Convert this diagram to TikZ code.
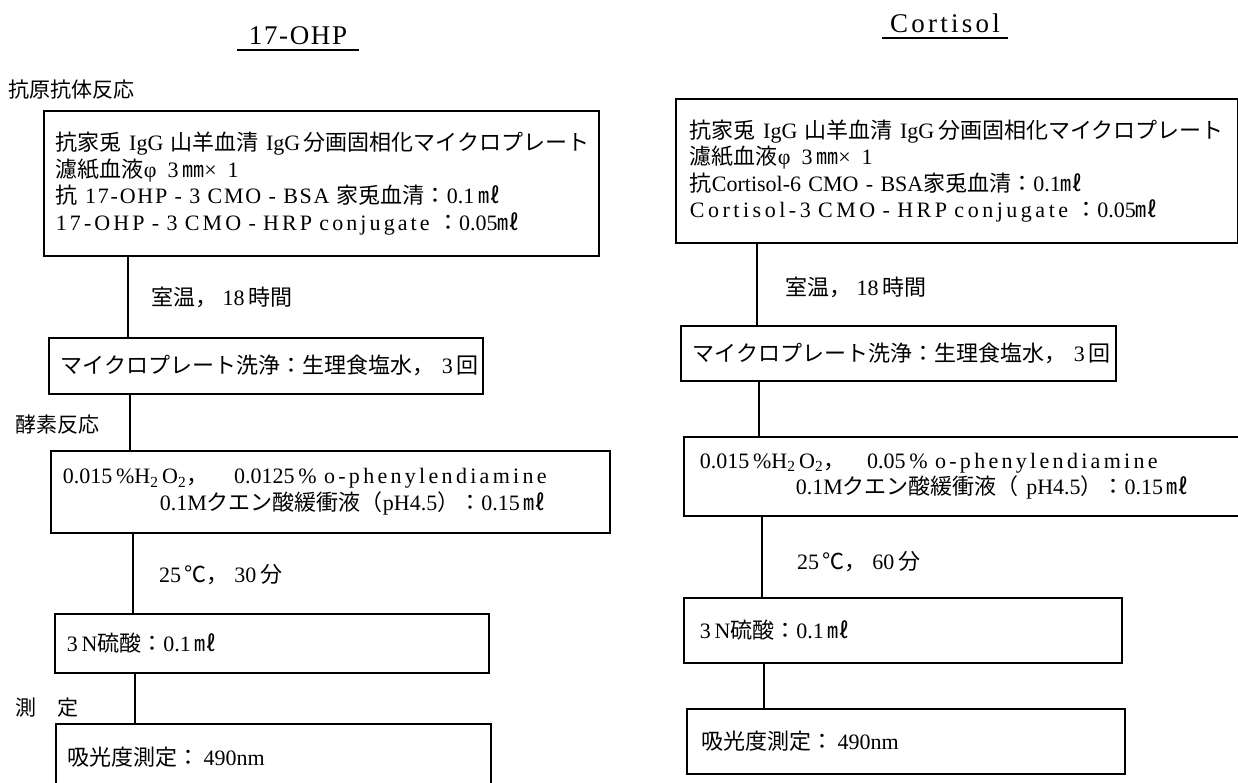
\documentclass[tikz,border=0pt]{standalone}
\usepackage{fontspec}
\setmainfont{Liberation Serif}
\newfontfamily\jp{Noto Sans CJK JP}
\newfontfamily\lsa[LetterSpace=6]{Liberation Serif}
\newfontfamily\lsb[LetterSpace=12]{Liberation Serif}
\newfontfamily\lsA[LetterSpace=8]{Liberation Serif}
\newfontfamily\lsB[LetterSpace=14]{Liberation Serif}
\newfontfamily\lsC[LetterSpace=16]{Liberation Serif}
\newfontfamily\lsD[LetterSpace=15]{Liberation Serif}
\newcommand\J[1]{{\jp #1}}
\newcommand\boxfont{\fontsize{22}{26.5}\selectfont}
\newcommand\labfont{\jp\fontsize{21}{24}\selectfont}
\tikzset{
  bx/.style={draw, line width=1.8pt, anchor=north west, inner xsep=12pt, inner ysep=0pt, align=left, font=\boxfont},
  lab/.style={anchor=west, inner sep=0pt, font=\labfont},
  ttl/.style={anchor=south, inner xsep=12pt, inner ysep=5pt},
  uline/.style={line width=1.6pt},
  conn/.style={line width=2.4pt},
}
\begin{document}
\begin{tikzpicture}[x=1pt,y=-1pt]
\useasboundingbox (0,0) rectangle (1238,783);
\clip (0,0) rectangle (1238,783);
% ---------- left column ----------
\node[ttl, font=\lsa\fontsize{27}{30}\selectfont] (T1) at (298,50) {17-OHP};
\draw[uline] (T1.south west) -- (T1.south east);
\node[lab] (LA) at (8,90) {抗原抗体反応};
\node[bx, text width=531pt, minimum height=145pt] (L1) at (43,110)
 {\mbox{\J{抗家兎} IgG \J{山羊血清} IgG\,\J{分画固相化マイクロプレート}}\\
  \mbox{\J{濾紙血液}φ\, 3\,\J{㎜}×\, 1}\\
  \mbox{\J{抗}{\lsA\ 17-OHP - 3 CMO - BSA }\J{家兎血清：}0.1\,\J{㎖}}\\
  \mbox{{\lsB 17-OHP - 3 CMO - HRP conjugate }\J{：}0.05\J{㎖}}};
\node[lab, font=\boxfont] (LB) at (151,297) {\J{室温，} 18\,\J{時間}};
\node[bx, text width=410pt, minimum height=56pt] (L2) at (48,337)
 {\mbox{\J{マイクロプレート洗浄：生理食塩水，} 3\,\J{回}}};
\node[lab] (LC) at (15,425) {酵素反応};
\node[bx, text width=535pt, minimum height=82pt] (L3) at (50,450)
 {\mbox{0.015\,\%H\textsubscript{2}\,O\textsubscript{2}\J{，}\hspace{26pt}0.0125\,\%\ {\lsD o-phenylendiamine}}\\
  \mbox{\hspace*{97pt}0.1M\J{クエン酸緩衝液（}pH4.5\J{）：}0.15\,\J{㎖}}};
\node[lab, font=\boxfont] (LD) at (159,575) {25\,\J{℃，} 30\,\J{分}};
\node[bx, text width=410pt, minimum height=59pt] (L4) at (54,613)
 {\mbox{3\,N\J{硫酸：}0.1\,\J{㎖}}};
\node[lab] (LE) at (15,708) {測　定};
\node[bx, text width=411pt, minimum height=67pt] (L5) at (55,723)
 {\mbox{\J{吸光度測定：}\,490nm}};
\coordinate (a1) at (128,0);
\coordinate (a2) at (130,0);
\coordinate (a3) at (133,0);
\coordinate (a4) at (135,0);
\draw[conn] (L1.south -| a1) -- (L2.north -| a1);
\draw[conn] (L2.south -| a2) -- (L3.north -| a2);
\draw[conn] (L3.south -| a3) -- (L4.north -| a3);
\draw[conn] (L4.south -| a4) -- (L5.north -| a4);
% ---------- right column ----------
\node[ttl, inner xsep=8pt, font=\lsb\fontsize{27}{30}\selectfont] (T2) at (945,38) {Cortisol};
\draw[uline] (T2.south west) -- (T2.south east);
\node[bx, inner xsep=14pt, text width=534pt, minimum height=144pt] (R1) at (675,98)
 {\mbox{\J{抗家兎} IgG \J{山羊血清} IgG\,\J{分画固相化マイクロプレート}}\\
  \mbox{\J{濾紙血液}φ\, 3\,\J{㎜}×\, 1}\\
  \mbox{\J{抗}Cortisol-6 CMO - BSA\J{家兎血清：}0.1\J{㎖}}\\
  \mbox{{\lsC Cortisol-3 CMO - HRP conjugate }\J{：}0.05\J{㎖}}};
\node[lab, font=\boxfont] (RB) at (785,287) {\J{室温，} 18\,\J{時間}};
\node[bx, text width=411pt, minimum height=55pt] (R2) at (680,325)
 {\mbox{\J{マイクロプレート洗浄：生理食塩水，} 3\,\J{回}}};
\node[bx, inner xsep=16pt, text width=530pt, minimum height=79pt] (R3) at (683,436)
 {\mbox{0.015\,\%H\textsubscript{2}\,O\textsubscript{2}\J{，}\hspace{22pt}0.05\,\%\ {\lsD o-phenylendiamine}}\\
  \mbox{\hspace*{96pt}0.1M\J{クエン酸緩衝液（} pH4.5\J{）：}0.15\,\J{㎖}}};
\node[lab, font=\boxfont] (RD) at (797,562) {25\,\J{℃，} 60\,\J{分}};
\node[bx, inner xsep=16pt, text width=406pt, minimum height=65pt] (R4) at (683,597)
 {\mbox{3\,N\J{硫酸：}0.1\,\J{㎖}}};
\node[bx, inner xsep=15pt, text width=408pt, minimum height=65pt] (R5) at (686,708)
 {\mbox{\J{吸光度測定：}\,490nm}};
\coordinate (b1) at (757,0);
\coordinate (b2) at (759,0);
\coordinate (b3) at (762,0);
\coordinate (b4) at (764,0);
\draw[conn] (R1.south -| b1) -- (R2.north -| b1);
\draw[conn] (R2.south -| b2) -- (R3.north -| b2);
\draw[conn] (R3.south -| b3) -- (R4.north -| b3);
\draw[conn] (R4.south -| b4) -- (R5.north -| b4);
\end{tikzpicture}
\end{document}
